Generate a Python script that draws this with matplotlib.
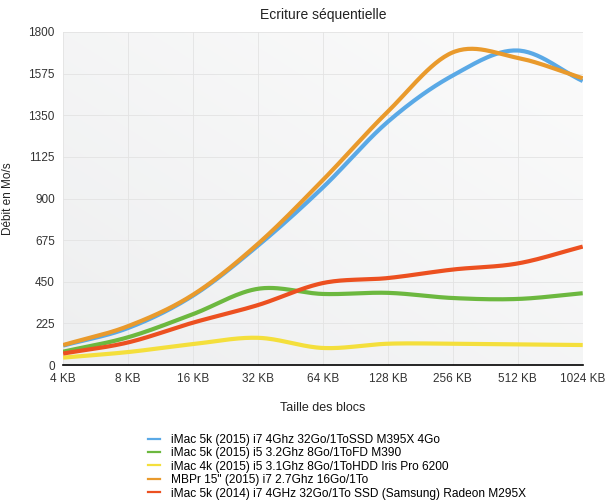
import numpy as np
import matplotlib
matplotlib.use('Agg')
from matplotlib import pyplot as plt
from matplotlib.lines import Line2D

categories = ['4 KB', '8 KB', '16 KB', '32 KB', '64 KB', '128 KB', '256 KB', '512 KB', '1024 KB']
yticks = [0, 225, 450, 675, 900, 1125, 1350, 1575, 1800]

imac5k_2015_i7 = [105, 200, 375, 645, 960, 1315, 1565, 1700, 1535]
imac5k_2015_i5 = [72, 150, 275, 412, 384, 390, 362, 357, 388]
imac4k_2015_i5 = [40, 70, 113, 147, 92, 115, 115, 112, 108]
mbpr15_2015_i7 = [108, 210, 380, 655, 1000, 1370, 1690, 1660, 1550]
imac5k_2014_i7 = [62, 122, 229, 324, 443, 470, 516, 549, 640]

labels = ['iMac 5k (2015) i7 4Ghz 32Go/1ToSSD M395X 4Go',
          'iMac 5k (2015) i5 3.2Ghz 8Go/1ToFD M390',
          'iMac 4k (2015) i5 3.1Ghz 8Go/1ToHDD Iris Pro 6200',
          'MBPr 15" (2015) i7 2.7Ghz 16Go/1To',
          'iMac 5k (2014) i7 4GHz 32Go/1To SSD (Samsung) Radeon M295X']
colors = ['#5aa9e6', '#6cb83f', '#f4df3c', '#e99a2c', '#ec5020']

plt.rcParams['font.family'] = ['Liberation Sans', 'DejaVu Sans']


def smooth(y, n=30):
    # catmull-rom curve through the points, for drawing only
    y = np.asarray(y, dtype=float)
    p = np.concatenate([[2 * y[0] - y[1]], y, [2 * y[-1] - y[-2]]])
    xs, ys = [], []
    for i in range(len(y) - 1):
        p0, p1, p2, p3 = p[i], p[i + 1], p[i + 2], p[i + 3]
        t = np.linspace(0, 1, n, endpoint=False)
        v = 0.5 * ((2 * p1) + (-p0 + p2) * t + (2 * p0 - 5 * p1 + 4 * p2 - p3) * t ** 2
                   + (-p0 + 3 * p1 - 3 * p2 + p3) * t ** 3)
        xs.extend(i + t)
        ys.extend(v)
    xs.append(len(y) - 1)
    ys.append(y[-1])
    return np.array(xs), np.array(ys)


fig = plt.figure(figsize=(6.07, 5.0), dpi=100)
ax = fig.add_axes([0.104, 0.27, 0.856, 0.666])

# background gradient
gx, gy = np.meshgrid(np.linspace(0, 1, 200), np.linspace(0, 1, 200))
g = (gx + gy) / 2
ax.imshow(g, extent=[0, len(categories) - 1, 0, 1800], origin='lower', aspect='auto',
          cmap=matplotlib.colors.LinearSegmentedColormap.from_list('bg', ['#eeeff0', '#fbfbfb']),
          zorder=0, interpolation='bilinear')

series = [imac5k_2015_i7, imac5k_2015_i5, imac4k_2015_i5, mbpr15_2015_i7, imac5k_2014_i7]
order = [2, 1, 4, 0, 3]
for i in order:
    xs, ys = smooth(series[i])
    ax.plot(xs, ys, color=colors[i], lw=3, solid_capstyle='butt', zorder=3 + i * 0.1)

ax.set_xlim(0, len(categories) - 1)
ax.set_ylim(0, 1800)
ax.set_xticks(range(len(categories)))
ax.set_xticklabels(categories, fontsize=8.5, color='#333333')
ax.set_yticks(yticks)
ax.set_yticklabels([str(v) for v in yticks], fontsize=8.5, color='#333333')
ax.tick_params(length=0, pad=6)
ax.grid(True, color='#e3e3e3', lw=0.6, zorder=1)
for s in ['top', 'right', 'left']:
    ax.spines[s].set_visible(False)
ax.spines['bottom'].set_color('black')
ax.spines['bottom'].set_linewidth(1.2)
ax.spines['bottom'].set_zorder(5)

ax.set_title('Ecriture séquentielle', fontsize=10, color='#222222', pad=9)
ax.set_xlabel('Taille des blocs', fontsize=9, color='#222222', labelpad=12)
ax.set_ylabel('Débit en Mo/s', fontsize=8.5, color='#222222', labelpad=10)

leg_handles = [Line2D([0], [0], color=c, lw=1.6) for c in colors]
fig.legend(leg_handles, labels, loc='upper left', bbox_to_anchor=(0.236, 0.142),
           bbox_transform=fig.transFigure, frameon=False, fontsize=8.6,
           handlelength=1.0, handletextpad=0.9, labelspacing=0.12, borderaxespad=0)

fig.savefig('out.png', dpi=100)
